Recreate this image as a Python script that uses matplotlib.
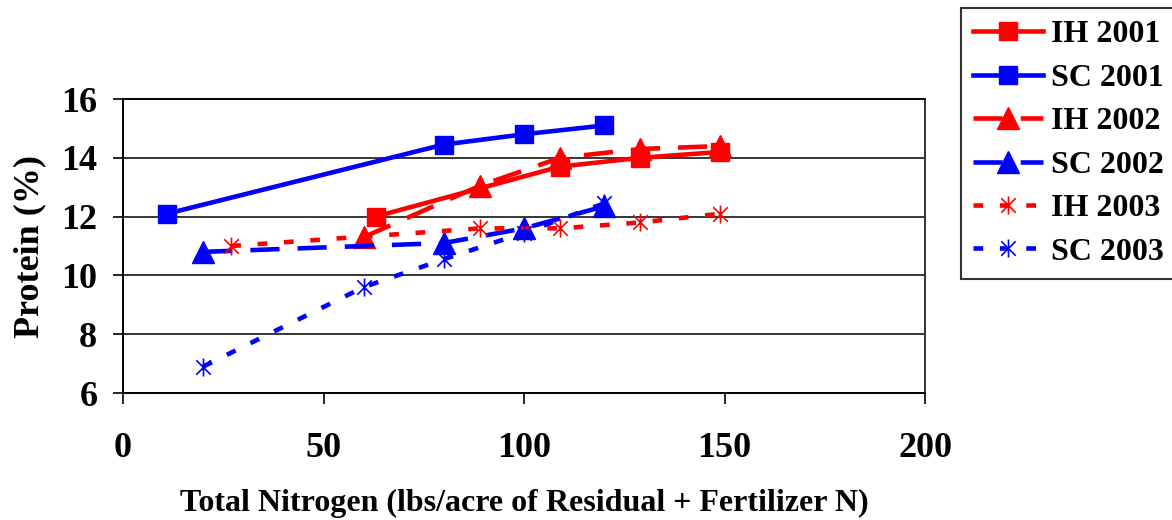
import matplotlib
matplotlib.use("Agg")
import matplotlib.pyplot as plt
from matplotlib.path import Path

plt.rcParams['font.family'] = ['Liberation Serif', 'DejaVu Serif']
plt.rcParams['font.weight'] = 'bold'
plt.rcParams['lines.scale_dashes'] = False

# ---- data ----
series_names = ["IH 2001", "SC 2001", "IH 2002", "SC 2002", "IH 2003", "SC 2003"]
x_ih2001 = [63, 109, 129, 149]
y_ih2001 = [12.0, 13.7, 14.0, 14.2]
x_sc2001 = [11, 80, 100, 120]
y_sc2001 = [12.1, 14.45, 14.8, 15.1]
x_ih2002 = [60, 89, 109, 129, 149]
y_ih2002 = [11.3, 13.05, 14.0, 14.3, 14.4]
x_sc2002 = [20, 80, 100, 120]
y_sc2002 = [10.8, 11.1, 11.6, 12.35]
x_ih2003 = [27, 89, 109, 129, 149]
y_ih2003 = [11.0, 11.6, 11.6, 11.8, 12.1]
x_sc2003 = [20, 60, 80, 100, 120]
y_sc2003 = [6.9, 9.6, 10.55, 11.45, 12.45]
x_ticks = [0, 50, 100, 150, 200]
y_ticks = [6, 8, 10, 12, 14, 16]

RED = "#FF0000"
BLUE = "#0000FF"

star = Path([(-1, -1), (1, 1), (-1, 1), (1, -1), (0, -1.25), (0, 1.25)],
            [Path.MOVETO, Path.LINETO, Path.MOVETO, Path.LINETO, Path.MOVETO, Path.LINETO])

fig = plt.figure(figsize=(11.72, 5.2), dpi=100)
ax = fig.add_axes([123 / 1172, 1 - 393 / 520, (925 - 123) / 1172, (393 - 99) / 520])

for yv in y_ticks[1:-1]:
    ax.axhline(yv, color="black", lw=1.1, zorder=1)

lw = 3.3
long_dash = (0, (21, 13))
short_dash = (0, (7, 12))

ax.plot(x_ih2001, y_ih2001, color=RED, lw=lw, ls="-", marker="s", ms=13.5,
        mec=RED, mfc=RED, label=series_names[0], zorder=3)
ax.plot(x_sc2001, y_sc2001, color=BLUE, lw=lw, ls="-", marker="s", ms=13.5,
        mec=BLUE, mfc=BLUE, label=series_names[1], zorder=3)
ax.plot(x_ih2002, y_ih2002, color=RED, lw=lw, ls=long_dash, marker="^", ms=16,
        mec=RED, mfc=RED, label=series_names[2], zorder=3)
ax.plot(x_sc2002, y_sc2002, color=BLUE, lw=lw, ls=long_dash, marker="^", ms=16,
        mec=BLUE, mfc=BLUE, label=series_names[3], zorder=3)
ax.plot(x_ih2003, y_ih2003, color=RED, lw=lw, ls=short_dash, marker=star, ms=13,
        mec=RED, mew=1.2, label=series_names[4], zorder=3)
ax.plot(x_sc2003, y_sc2003, color=BLUE, lw=lw, ls=short_dash, marker=star, ms=13,
        mec=BLUE, mew=1.2, label=series_names[5], zorder=3)

ax.set_xlim(0, 200)
ax.set_ylim(6, 16)
ax.set_xticks(x_ticks)
ax.set_yticks(y_ticks)
ax.tick_params(axis="x", direction="out", length=8, width=1.2, pad=20, labelsize=26)
ax.tick_params(axis="y", direction="out", length=7.5, width=1.2, pad=11, labelsize=26)
for lab in ax.get_xticklabels() + ax.get_yticklabels():
    lab.set_fontweight("bold")

for s in ["left", "bottom", "top"]:
    ax.spines[s].set_color("black")
    ax.spines[s].set_linewidth(1.4)
ax.spines["right"].set_color("#333333")
ax.spines["right"].set_linewidth(1.4)

ax.set_xlabel("Total Nitrogen (lbs/acre of Residual + Fertilizer N)", fontsize=23,
              fontweight="bold", labelpad=17)
ax.set_ylabel("Protein (%)", fontsize=26, fontweight="bold", labelpad=11)

leg = fig.legend(loc="upper left", bbox_to_anchor=(961 / 1172, 1 - 8 / 520),
                 borderaxespad=0, fontsize=23, frameon=True, fancybox=False,
                 edgecolor="black", handlelength=2.2, handletextpad=0.25,
                 borderpad=0.38, labelspacing=0.44)
leg.get_frame().set_linewidth(1.5)
for t in leg.get_texts():
    t.set_fontweight("bold")

fig.savefig("out.png", dpi=100)
